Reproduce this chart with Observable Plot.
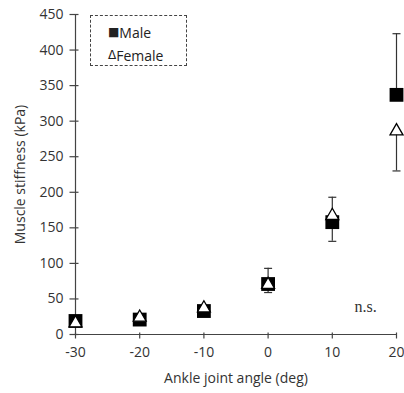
<!DOCTYPE html>
<html>
<head>
<meta charset="utf-8">
<script src="https://cdn.jsdelivr.net/npm/d3@7"></script>
<script src="https://cdn.jsdelivr.net/npm/@observablehq/plot@0.6"></script>
<style>
  body { margin: 0; background: #fff; }
  #wrap { position: relative; width: 404px; height: 393px; font-family: "Open Sans", sans-serif; }
  #legend { position: absolute; left: 90px; top: 15px; width: 97px; height: 51px; border: 1px dashed #444; box-sizing: border-box; font-size: 14px; color: #222; }
  #legend div { position: absolute; left: 17px; white-space: nowrap; }
  #legend span { position: relative; top: -2px; font-size: 12px; font-family: "DejaVu Sans", sans-serif; }
  g[aria-label="male"] path { filter: drop-shadow(0px 1px 1.2px rgba(0,0,0,0.45)); }
</style>
</head>
<body>
<div id="wrap"></div>
<script>
const angles = [-30, -20, -10, 0, 10, 20];
const maleMean = [19, 21, 33, 71, 158, 337];
const femaleMean = [16, 24, 37, 70, 167, 286];
const maleErrEnd = [null, null, null, 59, 131, 423];
const femaleErrEnd = [null, null, null, 93, 193, 230];
const xTicks = [-30, -20, -10, 0, 10, 20];
const yTicks = [0, 50, 100, 150, 200, 250, 300, 350, 400, 450];
const seriesNames = ["Male", "Female"];
const annotation = [{x: 15.2, y: 39, text: "n.s."}];

const male = angles.map((a, i) => ({x: a, y: maleMean[i], e: maleErrEnd[i]}));
const female = angles.map((a, i) => ({x: a, y: femaleMean[i], e: femaleErrEnd[i]}));
const errs = [...male, ...female].filter(d => d.e != null);

const yTickSym = {draw(c) { c.moveTo(-6, 0); c.lineTo(3, 0); }};
const xTickSym = {draw(c) { c.moveTo(0, -2); c.lineTo(0, 4); }};
const capSym = {draw(c) { c.moveTo(-4, 0); c.lineTo(4, 0); }};
const axisColor = "#444";

const chart = Plot.plot({
  width: 404,
  height: 393,
  marginTop: 14,
  marginLeft: 75,
  marginRight: 8,
  marginBottom: 59,
  style: {fontFamily: "Open Sans, sans-serif", fontSize: "14px", color: "#333", background: "#fff"},
  x: {domain: [-30, 20]},
  y: {domain: [0, 450]},
  marks: [
    Plot.axisX({ticks: xTicks, tickFormat: d => String(d), tickSize: 0, tickPadding: 13, fontSize: 14, label: "Ankle joint angle (deg)", labelAnchor: "center", labelOffset: 48, labelArrow: "none", fill: "#333"}),
    Plot.axisY({ticks: yTicks, tickFormat: d => String(d), tickSize: 0, tickPadding: 12, fontSize: 14, label: "Muscle stiffness (kPa)", labelAnchor: "center", labelOffset: 60, labelArrow: "none", fill: "#333"}),
    Plot.ruleX([-30], {y1: 0, y2: 450, stroke: axisColor, strokeWidth: 1.2}),
    Plot.ruleY([0], {x1: -30, x2: 20, stroke: axisColor, strokeWidth: 1.2}),
    Plot.dot(yTicks, {x: () => -30, y: d => d, symbol: yTickSym, stroke: axisColor, strokeWidth: 1.2, fill: "none"}),
    Plot.dot(xTicks, {x: d => d, y: () => 0, symbol: xTickSym, stroke: axisColor, strokeWidth: 1.2, fill: "none"}),
    Plot.ruleX(errs, {x: "x", y1: "y", y2: "e", stroke: "#333", strokeWidth: 1.2}),
    Plot.dot(errs, {x: "x", y: "e", symbol: capSym, stroke: "#333", strokeWidth: 1.2, fill: "none"}),
    Plot.dot(male, {x: "x", y: "y", symbol: "square", r: 7.8, fill: "#000", stroke: "none", ariaLabel: "male"}),
    Plot.dot(female, {x: "x", y: "y", symbol: "triangle", r: 4.8, fill: "#fff", stroke: "#000", strokeWidth: 1.3}),
    Plot.text(annotation, {x: "x", y: "y", text: "text", fontFamily: "Liberation Serif, serif", fontSize: 16, fill: "#333", letterSpacing: "0.5px"})
  ]
});

const wrap = document.getElementById("wrap");
wrap.appendChild(chart);
const legend = document.createElement("div");
legend.id = "legend";
legend.innerHTML = `<div style="top:7px"><span>■</span>${seriesNames[0]}</div><div style="top:30px"><span>Δ</span>${seriesNames[1]}</div>`;
wrap.appendChild(legend);
</script>
</body>
</html>
